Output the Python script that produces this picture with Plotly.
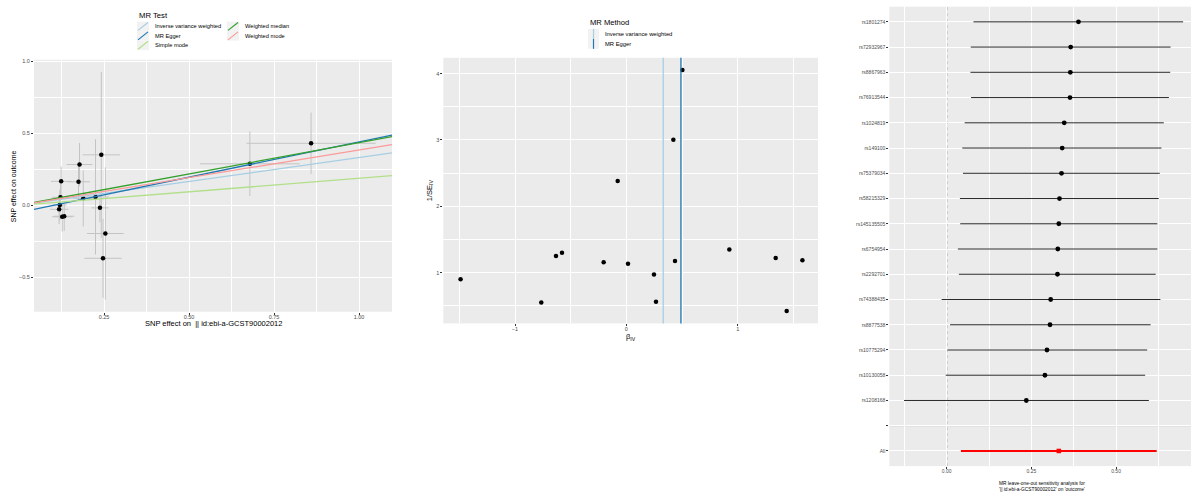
import plotly.graph_objects as go

W, H = 1191, 493

# ---------------- MR scatter: per-SNP effects ----------------
snp_bx = [0.124, 0.122, 0.120, 0.118, 0.127, 0.133, 0.178, 0.175,
          0.189, 0.225, 0.242, 0.238, 0.254, 0.247, 0.679, 0.859]
snp_by = [0.166, 0.055, 0.002, -0.028, -0.080, -0.076, 0.283, 0.163,
          0.048, 0.058, 0.350, -0.018, -0.196, -0.368, 0.288, 0.430]
snp_se_bx = [0.030, 0.025, 0.020, 0.027, 0.030, 0.030, 0.038, 0.034,
             0.030, 0.040, 0.055, 0.025, 0.054, 0.055, 0.147, 0.190]
snp_se_by = [0.102, 0.104, 0.106, 0.102, 0.102, 0.102, 0.150, 0.130,
             0.195, 0.400, 0.576, 0.100, 0.460, 0.274, 0.224, 0.213]

mr_methods = ["Inverse variance weighted", "MR Egger", "Simple mode",
              "Weighted median", "Weighted mode"]
mr_slope = [0.331, 0.490, 0.187, 0.435, 0.384]
mr_intercept = [0.0, -0.050, 0.0, 0.0, 0.0]
mr_colors = ["#a6cee3", "#1f78b4", "#b2df8a", "#33a02c", "#fb9a99"]

# ---------------- Funnel plot ----------------
beta_iv = [1.341, 0.437, 0.015, -0.204, -0.632, -0.578, 1.581, 0.925,
           0.248, 0.266, 1.440, -0.078, -0.764, -1.489, 0.422, 0.503]
inv_se_iv = [1.22, 1.175, 1.135, 1.156, 1.25, 1.30, 1.186, 1.35,
             0.97, 0.56, 0.42, 2.381, 0.55, 0.90, 3.003, 4.054]
funnel_methods = ["Inverse variance weighted", "MR Egger"]
funnel_b = [0.331, 0.490]
funnel_colors = ["#a6cee3", "#1f78b4"]

# ---------------- Leave-one-out ----------------
loo_snps = ["rs1801274", "rs72932967", "rs8867963", "rs76913544", "rs1024819",
            "rs149100", "rs75379034", "rs58215329", "rs145135505", "rs6754954",
            "rs2292701", "rs74388435", "rs8877538", "rs10775294", "rs10130058",
            "rs1208168"]
loo_b = [0.389, 0.366, 0.365, 0.364, 0.347, 0.341, 0.339, 0.333, 0.331, 0.328,
         0.327, 0.307, 0.305, 0.296, 0.290, 0.235]
loo_lo = [0.079, 0.071, 0.070, 0.072, 0.053, 0.046, 0.048, 0.039, 0.040, 0.033,
          0.036, -0.015, 0.010, 0.002, -0.003, -0.126]
loo_hi = [0.698, 0.661, 0.660, 0.656, 0.641, 0.634, 0.629, 0.626, 0.622, 0.622,
          0.617, 0.631, 0.602, 0.592, 0.586, 0.597]
all_label = "All"
all_b, all_lo, all_hi = 0.331, 0.042, 0.620

exposure_label = "|| id:ebi-a-GCST90002012"

FONT = "Liberation Sans, Arial, sans-serif"
TICK_COLOR = "#4D4D4D"
PANEL_BG = "#EBEBEB"


def px(x):
    return x / W


def py(y):
    return 1 - y / H


fig = go.Figure()

# scatter points with SE bars
fig.add_trace(go.Scatter(
    x=snp_bx, y=snp_by, mode="markers",
    marker=dict(color="black", size=4.5),
    error_x=dict(type="data", array=snp_se_bx, color="#C4C4C4", thickness=1, width=0),
    error_y=dict(type="data", array=snp_se_by, color="#C4C4C4", thickness=1, width=0),
    xaxis="x", yaxis="y", showlegend=False, hoverinfo="skip"))

SC_X = [0.0441, 1.097]
SC_Y = [-0.739, 1.01]
for name, b, a, col in zip(mr_methods, mr_slope, mr_intercept, mr_colors):
    fig.add_trace(go.Scatter(
        x=SC_X, y=[a + b * SC_X[0], a + b * SC_X[1]], mode="lines",
        line=dict(color=col, width=1.3), name=name,
        xaxis="x", yaxis="y", showlegend=False, hoverinfo="skip"))

# funnel points
fig.add_trace(go.Scatter(
    x=beta_iv, y=inv_se_iv, mode="markers",
    marker=dict(color="black", size=4.5),
    xaxis="x2", yaxis="y2", showlegend=False, hoverinfo="skip"))

# leave-one-out rows (y position by row index, top row highest)
n = len(loo_snps)
loo_y = [n + 2 - i for i in range(n)]
fig.add_trace(go.Scatter(
    x=loo_b, y=loo_y, mode="markers",
    marker=dict(color="black", size=4.8),
    error_x=dict(type="data", symmetric=False,
                 array=[h - b for h, b in zip(loo_hi, loo_b)],
                 arrayminus=[b - l for b, l in zip(loo_b, loo_lo)],
                 color="#2a2a2a", thickness=1, width=0),
    xaxis="x3", yaxis="y3", showlegend=False, hoverinfo="skip"))
fig.add_trace(go.Scatter(
    x=[all_b], y=[1], mode="markers",
    marker=dict(color="red", size=4.5, symbol="square"),
    error_x=dict(type="data", symmetric=False, array=[all_hi - all_b],
                 arrayminus=[all_b - all_lo], color="red", thickness=2, width=0),
    xaxis="x3", yaxis="y3", showlegend=False, hoverinfo="skip"))

shapes = []
# funnel method lines
for b, col in zip(funnel_b, funnel_colors):
    shapes.append(dict(type="line", xref="x2", yref="y2 domain", x0=b, x1=b, y0=0, y1=1,
                       line=dict(color=col, width=1.3), layer="above"))
# forest reference lines
shapes.append(dict(type="line", xref="x3", yref="y3 domain", x0=0, x1=0, y0=0, y1=1,
                   line=dict(color="#555555", width=1, dash="dot"), layer="below"))
shapes.append(dict(type="line", xref="x3 domain", yref="y3", x0=0, x1=1, y0=2, y1=2,
                   line=dict(color="#BEBEBE", width=1), layer="below"))

annotations = []

# scatter legend (two columns of abline keys)
annotations.append(dict(text="MR Test", x=px(137), y=py(14), xref="paper", yref="paper",
                        xanchor="left", yanchor="middle", showarrow=False,
                        font=dict(family=FONT, size=7.7, color="black")))
key_cols = [137, 227]
key_rows = [24.5, 34, 43.5]
for i, (name, col) in enumerate(zip(mr_methods, mr_colors)):
    c, r = (0, i) if i < 3 else (1, i - 3)
    kx, ky = key_cols[c], key_rows[r]
    shapes.append(dict(type="rect", xref="paper", yref="paper",
                       x0=px(kx), x1=px(kx + 12), y0=py(ky + 4.8), y1=py(ky - 4.8),
                       fillcolor="#F2F2F2", line=dict(width=0)))
    shapes.append(dict(type="line", xref="paper", yref="paper",
                       x0=px(kx + 1), x1=px(kx + 11), y0=py(ky + 4), y1=py(ky - 4),
                       line=dict(color=col, width=1.2)))
    annotations.append(dict(text=name, x=px(kx + 15.5), y=py(ky), xref="paper", yref="paper",
                            xanchor="left", yanchor="middle", showarrow=False,
                            font=dict(family=FONT, size=5.7, color="black")))

# funnel legend (vertical keys)
annotations.append(dict(text="MR Method", x=px(588), y=py(21), xref="paper", yref="paper",
                        xanchor="left", yanchor="middle", showarrow=False,
                        font=dict(family=FONT, size=7.6, color="black")))
for i, (name, col) in enumerate(zip(funnel_methods, funnel_colors)):
    ky = 32 + 10 * i
    shapes.append(dict(type="rect", xref="paper", yref="paper",
                       x0=px(588), x1=px(599), y0=py(ky + 5), y1=py(ky - 5),
                       fillcolor="#F2F2F2", line=dict(width=0)))
    shapes.append(dict(type="line", xref="paper", yref="paper",
                       x0=px(593.5), x1=px(593.5), y0=py(ky + 5), y1=py(ky - 5),
                       line=dict(color=col, width=1.2)))
    annotations.append(dict(text=name, x=px(603.5), y=py(ky), xref="paper", yref="paper",
                            xanchor="left", yanchor="middle", showarrow=False,
                            font=dict(family=FONT, size=5.8, color="black")))

# axis titles
titles = [
    dict(text="SNP effect on outcome", x=px(13), y=py(185), textangle=-90,
         font=dict(family=FONT, size=7, color="black")),
    dict(text="SNP effect on  " + exposure_label, x=px(213), y=py(323),
         font=dict(family=FONT, size=7.5, color="black")),
    dict(text="1/SE<sub>IV</sub>", x=px(430), y=py(189), textangle=-90,
         font=dict(family=FONT, size=7.5, color="black")),
    dict(text="β<sub>IV</sub>", x=px(631), y=py(336),
         font=dict(family=FONT, size=7.5, color="black")),
    dict(text="MR leave-one-out sensitivity analysis for<br>'" + exposure_label
              + "' on 'outcome'", x=px(1042), y=py(486),
         font=dict(family=FONT, size=4.8, color="black")),
]
for a in titles:
    a.update(xref="paper", yref="paper", showarrow=False,
             xanchor="center", yanchor="middle")
annotations += titles

tick_font = dict(family=FONT, size=5.5, color=TICK_COLOR)
forest_tick_font = dict(family=FONT, size=5, color=TICK_COLOR)
common = dict(showgrid=True, gridcolor="white", gridwidth=1, zeroline=False,
              showline=False, ticks="outside", ticklen=2, tickcolor="#333333",
              tickwidth=0.8)
xcommon = dict(ticklabelstandoff=-2, **common)
ycommon = dict(ticklabelstandoff=0, **common)

fig.update_layout(
    width=W, height=H, margin=dict(l=0, r=0, t=0, b=0),
    paper_bgcolor="white", plot_bgcolor=PANEL_BG, showlegend=False,
    xaxis=dict(domain=[px(34), px(392)], range=SC_X, dtick=0.25, tick0=0,
               tickformat=".2f", tickfont=tick_font, anchor="y",
               minor=dict(tick0=0.125, dtick=0.25, showgrid=True,
                          gridcolor="white", gridwidth=0.5), **xcommon),
    yaxis=dict(domain=[py(311), py(58)], range=SC_Y, dtick=0.5, tick0=0,
               tickformat=".1f", tickfont=tick_font, anchor="x",
               minor=dict(tick0=0.25, dtick=0.5, showgrid=True,
                          gridcolor="white", gridwidth=0.5), **ycommon),
    xaxis2=dict(domain=[px(443.3), px(818)], range=[-1.644, 1.721], dtick=1, tick0=0,
                tickfont=tick_font, anchor="y2",
                minor=dict(tick0=0.5, dtick=1, showgrid=True,
                           gridcolor="white", gridwidth=0.5), **xcommon),
    yaxis2=dict(domain=[py(322.7), py(56)], range=[0.234, 4.24], dtick=1, tick0=0,
                tickfont=tick_font, anchor="x2",
                minor=dict(tick0=0.5, dtick=1, showgrid=True,
                           gridcolor="white", gridwidth=0.5), **ycommon),
    xaxis3=dict(domain=[px(889.3), 1.0], range=[-0.1695, 0.7213], dtick=0.25, tick0=0,
                tickformat=".2f", tickfont=forest_tick_font, anchor="y3",
                minor=dict(tick0=0.125, dtick=0.25, showgrid=True,
                           gridcolor="white", gridwidth=0.5), **xcommon),
    yaxis3=dict(domain=[py(466), py(4.7)], range=[0.4, n + 2.6],
                tickmode="array", tickvals=[1, 2] + loo_y,
                ticktext=[all_label, ""] + loo_snps,
                tickfont=forest_tick_font, anchor="x3", **ycommon),
    shapes=shapes, annotations=annotations,
)

fig.write_html("out.html")
